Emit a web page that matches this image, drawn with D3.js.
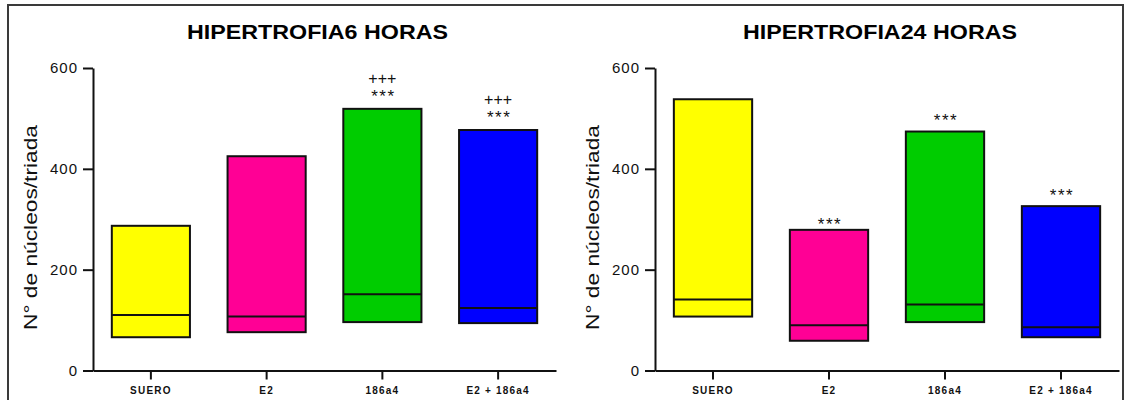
<!DOCTYPE html>
<html>
<head>
<meta charset="utf-8">
<script src="https://cdn.jsdelivr.net/npm/d3@7"></script>
<style>
  html, body { margin: 0; padding: 0; background: #fff; }
  svg { display: block; }
  text { font-family: Arial, "Liberation Sans", sans-serif; }
</style>
</head>
<body>
<svg id="chart" width="1126" height="400"></svg>
<script>
// Groups shown on both panels
const categories = ["SUERO", "E2", "186a4", "E2 + 186a4"];
const barColors = ["#FFFF00", "#FF0095", "#00CC00", "#0000FF"];

// 6 h: floating bars (min to max) with median line
const min6 = [66, 76, 96, 94];
const median6 = [110, 107, 151, 124];
const max6 = [287, 425, 519, 477];

// 24 h
const min24 = [107, 59, 96, 66];
const median24 = [141, 90, 131, 86];
const max24 = [538, 279, 474, 326];

// Significance marks and the level (in axis units) where each sits
const marks6 = [[], [], [["+++", 580], ["***", 552]], [["+++", 538], ["***", 511]]];
const marks24 = [[], [["***", 298]], [["***", 505]], [["***", 356]]];

const yTicks = [0, 200, 400, 600];
const titles = ["HIPERTROFIA6 HORAS", "HIPERTROFIA24 HORAS"];
const yLabel = "N° de núcleos/triada";

const svg = d3.select("#chart");

// outer frame
svg.append("rect")
  .attr("x", 8).attr("y", 5)
  .attr("width", 1115).attr("height", 402)
  .attr("fill", "none").attr("stroke", "#3a3a3a").attr("stroke-width", 2);

const panels = [
  { x0: 93, x1: 556, title: titles[0], titleLen: 261, min: min6, med: median6, max: max6, marks: marks6 },
  { x0: 655, x1: 1119, title: titles[1], titleLen: 274, min: min24, med: median24, max: max24, marks: marks24 }
];

const y = d3.scaleLinear().domain([0, 600]).range([370.5, 68]);

panels.forEach(p => {
  const g = svg.append("g");
  const x = d3.scaleBand()
    .domain(categories)
    .range([p.x0, p.x1])
    .paddingInner(0.325)
    .paddingOuter(0.1625);

  // title
  g.append("text")
    .attr("x", (p.x0 + p.x1) / 2 - 7)
    .attr("y", 38.5)
    .attr("text-anchor", "middle")
    .attr("font-size", 21)
    .attr("font-weight", "bold")
    .attr("textLength", p.titleLen)
    .attr("lengthAdjust", "spacingAndGlyphs")
    .text(p.title);

  // y axis label
  g.append("text")
    .attr("transform", `translate(${p.x0 - 56},227.5) rotate(-90)`)
    .attr("text-anchor", "middle")
    .attr("font-size", 18)
    .attr("textLength", 205)
    .attr("lengthAdjust", "spacingAndGlyphs")
    .attr("fill", "#111")
    .text(yLabel);

  // bars
  const data = categories.map((c, i) => ({ c, i, min: p.min[i], med: p.med[i], max: p.max[i] }));
  const bars = g.selectAll("g.bar").data(data).join("g").attr("class", "bar");
  bars.append("rect")
    .attr("x", d => x(d.c))
    .attr("y", d => y(d.max))
    .attr("width", x.bandwidth())
    .attr("height", d => y(d.min) - y(d.max))
    .attr("fill", d => barColors[d.i])
    .attr("stroke", "#111")
    .attr("stroke-width", 2);
  bars.append("line")
    .attr("x1", d => x(d.c))
    .attr("x2", d => x(d.c) + x.bandwidth())
    .attr("y1", d => y(d.med))
    .attr("y2", d => y(d.med))
    .attr("stroke", "#111")
    .attr("stroke-width", 2);

  // significance marks
  categories.forEach((c, i) => {
    p.marks[i].forEach(([txt, lvl]) => {
      const star = txt[0] === "*";
      g.append("text")
        .attr("x", x(c) + x.bandwidth() / 2 + (star ? 1 : 0))
        .attr("y", y(lvl) + (star ? 10 : 5.6))
        .attr("text-anchor", "middle")
        .attr("font-size", star ? 17 : 16)
        .attr("letter-spacing", star ? 1.5 : 0)
        .attr("fill", "#111")
        .text(txt);
    });
  });

  // y axis
  const ya = g.append("g")
    .attr("transform", `translate(${p.x0},0)`)
    .call(d3.axisLeft(y).tickValues(yTicks).tickSize(10).tickSizeOuter(0).tickPadding(5));
  ya.select(".domain").attr("stroke", "#111").attr("stroke-width", 2);
  ya.selectAll(".tick line").attr("stroke", "#111").attr("stroke-width", 2);
  ya.selectAll(".tick text")
    .attr("font-size", 15)
    .attr("letter-spacing", 1)
    .attr("fill", "#111")
    .style("font-family", "Arial, 'Liberation Sans', sans-serif");

  // x axis
  const xa = g.append("g")
    .attr("transform", "translate(0,370.5)")
    .call(d3.axisBottom(x).tickSize(9).tickSizeOuter(0).tickPadding(7));
  xa.select(".domain").attr("stroke", "#111").attr("stroke-width", 2);
  xa.selectAll(".tick line").attr("stroke", "#111").attr("stroke-width", 2);
  xa.selectAll(".tick text")
    .attr("font-size", 10)
    .attr("font-weight", "bold")
    .attr("letter-spacing", 1.2)
    .attr("fill", "#111")
    .style("font-family", "Arial, 'Liberation Sans', sans-serif");
});
</script>
</body>
</html>
